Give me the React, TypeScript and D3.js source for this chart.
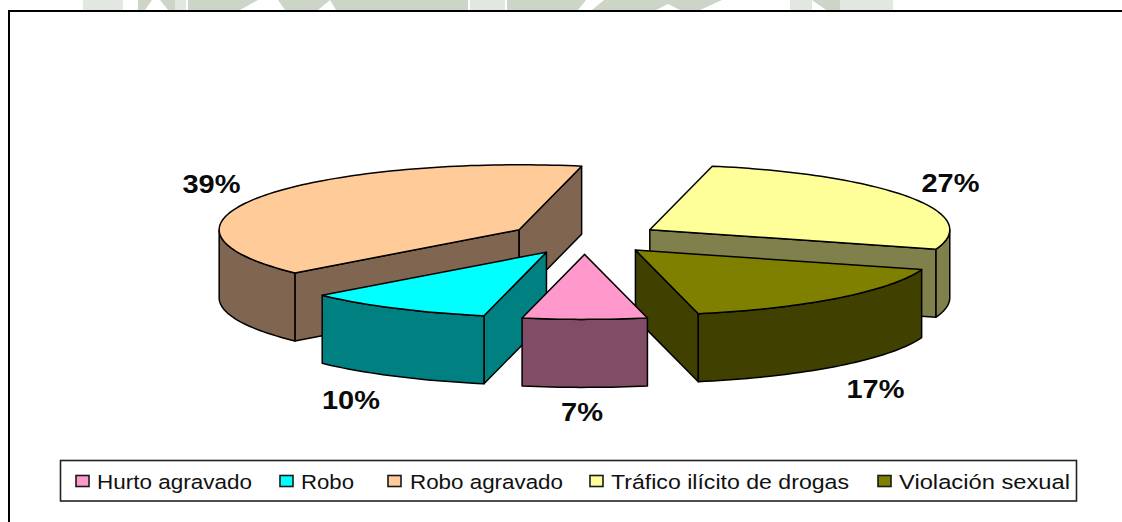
import React from "react";
import * as d3 from "d3";

const W = 1122, H = 522;
const categories = ["Hurto agravado", "Robo", "Robo agravado", "Tráfico ilícito de drogas", "Violación sexual"];
const shares = [6.7, 10.1, 39.9, 26.5, 16.8];
const labels = ["7%", "10%", "39%", "27%", "17%"];
const topColors = ["#FF99CC", "#00FFFF", "#FFCC99", "#FFFF99", "#808000"];
const wallColors = ["#804C66", "#008080", "#806650", "#80804C", "#404000"];
const drawOrder = [2, 3, 1, 4, 0];
const labelX = [582, 351, 211.5, 950.5, 875.5];
const labelY = [421, 409, 193, 192, 398];
const labelW = [42, 58, 58, 58, 58];
const legendSwatchX = [76, 280, 388, 590, 878];
const legendTextX = [97, 301, 410, 611, 899];
const legendTextW = [155, 53, 153, 238, 171];
const watermarkLight = ["M83 0H123V10H83Z", "M175 0H186V10H175Z", "M470 0H505V10H470Z", "M840 0H893V10H840Z", "M790 0H812V10H790Z"];
const watermarkDark = [
  "M138 0H152L145 10H138Z",
  "M160 0H175V10H168Z",
  "M188 0H258L240 10H188Z",
  "M278 0H330L318 10H296L285 10Z",
  "M330 0H468V10H336Z",
  "M507 0H586L578 10H507Z",
  "M604 0H722L700 10H680L668 4L656 10H592Z",
  "M812 0H840V10H826Z",
];

const cx = 584.5, cy = 238, rx = 300, ry = 65, depth = 68, explode = 0.252;
const xs = d3.scaleLinear().domain([-1, 1]).range([-rx, rx]);
const ys = d3.scaleLinear().domain([-1, 1]).range([ry, -ry]);
const START = (167.9 * Math.PI) / 180;
const arcs = d3.pie<number>().sort(null).startAngle(START).endAngle(START + 2 * Math.PI)(shares);

type P = [number, number];
const line = d3.line<P>();

function slice(i: number) {
  const a = arcs[i];
  const mid = (a.startAngle + a.endAngle) / 2;
  const ax = cx + explode * xs(Math.sin(mid));
  const ay = cy + explode * ys(Math.cos(mid));
  const at = (t: number): P => [ax + xs(Math.sin(t)), ay + ys(Math.cos(t))];
  const n = Math.max(8, Math.ceil((a.endAngle - a.startAngle) * 40));
  const rim = d3.range(n + 1).map((k) => at(a.startAngle + ((a.endAngle - a.startAngle) * k) / n));
  const apex: P = [ax, ay];
  return { apex, rim };
}
const drop = (pts: P[]): P[] => pts.map(([x, y]) => [x, y + depth] as P);

function Slice({ i }: { i: number }) {
  const { apex, rim } = slice(i);
  const walls: P[][] = [];
  const first = rim[0], last = rim[rim.length - 1];
  if (first[0] < apex[0]) walls.push([apex, first]);
  if (apex[0] < last[0]) walls.push([last, apex]);
  // outer wall: the stretch of the rim that faces the viewer
  let run: P[] = [];
  rim.forEach((p, k) => {
    const front = k > 0 && rim[k][0] < rim[k - 1][0];
    if (front) {
      if (!run.length) run.push(rim[k - 1]);
      run.push(p);
    } else if (run.length) {
      walls.push(run);
      run = [];
    }
  });
  if (run.length) walls.push(run);
  return (
    <g stroke="#000" strokeWidth={1.5} strokeLinejoin="round">
      {walls.map((w, k) => (
        <path key={k} fill={wallColors[i]} d={line([...w, ...drop(w).reverse()]) + "Z"} />
      ))}
      <path fill={topColors[i]} d={line([apex, ...rim]) + "Z"} />
    </g>
  );
}

const App = () => (
  <svg width={W} height={H} style={{ position: "absolute", left: 0, top: 0, background: "#fff" }}
    fontFamily="'Liberation Sans', Arial, sans-serif">
    <g fill="#e3e7e1">{watermarkLight.map((d) => <path key={d} d={d} />)}</g>
    <g fill="#cdd5c9">{watermarkDark.map((d) => <path key={d} d={d} />)}</g>
    <rect x={9} y={11} width={1130} height={530} fill="#fff" stroke="#000" strokeWidth={2} />
    {drawOrder.map((i) => <Slice key={i} i={i} />)}
    {labels.map((t, i) => (
      <text key={t} x={labelX[i]} y={labelY[i]} textAnchor="middle" fontWeight="bold" fontSize={26}
        textLength={labelW[i]} lengthAdjust="spacingAndGlyphs" fill="#0a0a0a">{t}</text>
    ))}
    <rect x={60.5} y={460.5} width={1016} height={40.5} fill="#fff" stroke="#222" strokeWidth={1.6} />
    {categories.map((c, i) => (
      <g key={c}>
        <rect x={legendSwatchX[i]} y={475.5} width={13} height={11} fill={topColors[i]} stroke="#1a1a1a" strokeWidth={1.6} />
        <text x={legendTextX[i]} y={488.5} fontSize={20.5} textLength={legendTextW[i]} lengthAdjust="spacingAndGlyphs" fill="#111">{c}</text>
      </g>
    ))}
  </svg>
);

export default App;
